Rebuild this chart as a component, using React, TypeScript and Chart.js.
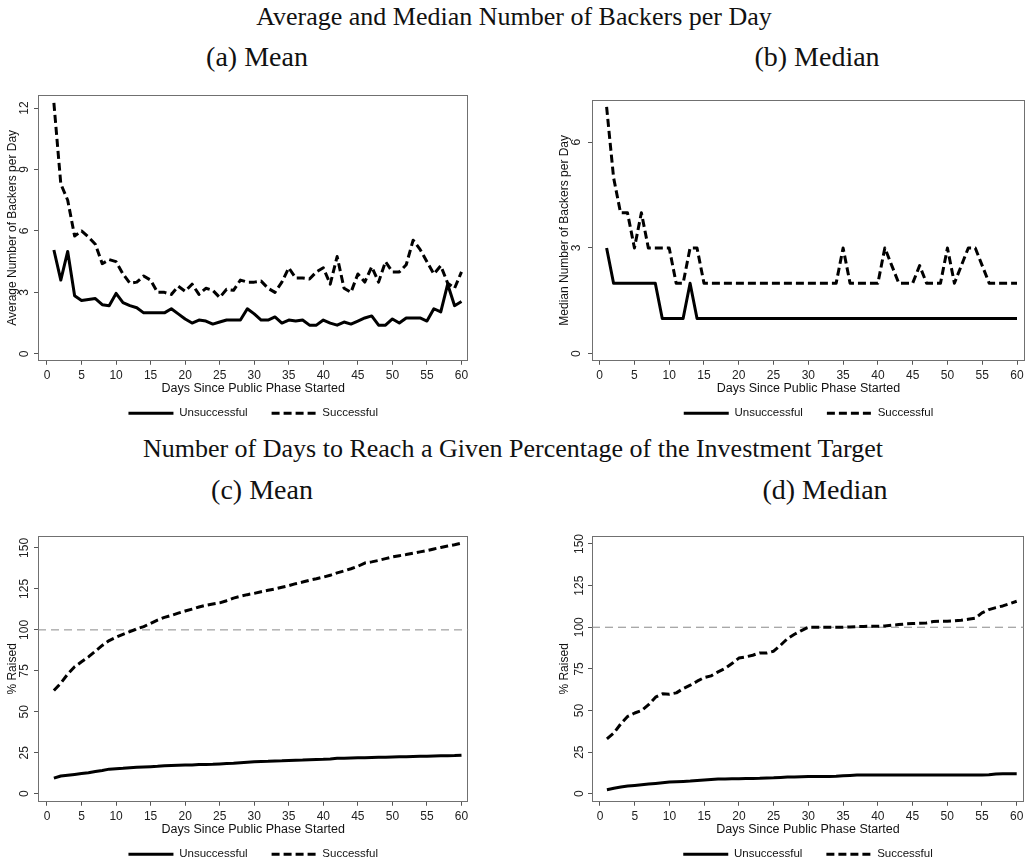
import React, { useEffect, useRef } from "react";
import { Chart, registerables } from "chart.js";

Chart.register(...registerables);

const SANS = '"Liberation Sans", Arial, Helvetica, sans-serif';
const SERIF = '"Liberation Serif", "Times New Roman", serif';

// ---------- data ----------
const days = [
  1, 2, 3, 4, 5, 6, 7, 8, 9, 10, 11, 12, 13, 14, 15, 16, 17, 18, 19, 20,
  21, 22, 23, 24, 25, 26, 27, 28, 29, 30, 31, 32, 33, 34, 35, 36, 37, 38, 39, 40,
  41, 42, 43, 44, 45, 46, 47, 48, 49, 50, 51, 52, 53, 54, 55, 56, 57, 58, 59, 60,
];
const xTickValues = [0, 5, 10, 15, 20, 25, 30, 35, 40, 45, 50, 55, 60];
const avgYTicks = [0, 3, 6, 9, 12];
const medYTicks = [0, 3, 6];
const pctYTicks = [0, 25, 50, 75, 100, 125, 150];
const seriesNames = ["Unsuccessful", "Successful"];
const targetPct = 100;

// (a) average backers per day
const avgUnsuccessful = [
  5.07, 3.6, 5.0, 2.83, 2.6, 2.65, 2.7, 2.4, 2.35, 2.95, 2.5, 2.35, 2.25, 2.0, 2.0, 2.0, 2.0, 2.2, 1.95, 1.7,
  1.5, 1.65, 1.6, 1.45, 1.55, 1.65, 1.65, 1.65, 2.2, 1.95, 1.65, 1.65, 1.8, 1.5, 1.65, 1.6, 1.65, 1.4, 1.4, 1.65,
  1.5, 1.4, 1.55, 1.45, 1.6, 1.75, 1.85, 1.4, 1.4, 1.7, 1.5, 1.75, 1.75, 1.75, 1.6, 2.2, 2.05, 3.4, 2.35, 2.55,
];
const avgSuccessful = [
  12.25, 8.3, 7.5, 5.75, 6.0, 5.7, 5.35, 4.4, 4.6, 4.5, 3.9, 3.45, 3.5, 3.8, 3.6, 3.0, 3.0, 2.9, 3.3, 3.05,
  3.4, 2.9, 3.2, 3.1, 2.75, 3.15, 3.1, 3.6, 3.5, 3.5, 3.55, 3.2, 3.0, 3.5, 4.2, 3.7, 3.7, 3.65, 4.0, 4.2,
  3.4, 4.75, 3.2, 3.0, 3.9, 3.5, 4.25, 3.5, 4.5, 4.0, 4.0, 4.35, 5.55, 5.1, 4.5, 3.9, 4.3, 3.45, 3.2, 4.0,
];

// (b) median backers per day
const medUnsuccessful = [
  3, 2, 2, 2, 2, 2, 2, 2, 1, 1, 1, 1, 2, 1, 1, 1, 1, 1, 1, 1,
  1, 1, 1, 1, 1, 1, 1, 1, 1, 1, 1, 1, 1, 1, 1, 1, 1, 1, 1, 1,
  1, 1, 1, 1, 1, 1, 1, 1, 1, 1, 1, 1, 1, 1, 1, 1, 1, 1, 1, 1,
];
const medSuccessful = [
  7, 5, 4, 4, 3, 4, 3, 3, 3, 3, 2, 2, 3, 3, 2, 2, 2, 2, 2, 2,
  2, 2, 2, 2, 2, 2, 2, 2, 2, 2, 2, 2, 2, 2, 3, 2, 2, 2, 2, 2,
  3, 2.5, 2, 2, 2, 2.5, 2, 2, 2, 3, 2, 2.5, 3, 3, 2.5, 2, 2, 2, 2, 2,
];

// (c) mean % raised
const pctMeanUnsuccessful = [
  9.5, 10.8, 11.3, 11.8, 12.3, 12.8, 13.5, 14.2, 15.0, 15.3, 15.5, 15.8, 16.1, 16.3, 16.5, 16.7, 17.0, 17.2, 17.4, 17.5,
  17.6, 17.8, 17.9, 18.0, 18.2, 18.4, 18.6, 18.9, 19.2, 19.5, 19.7, 19.8, 20.0, 20.1, 20.3, 20.5, 20.6, 20.8, 20.9, 21.0,
  21.2, 21.6, 21.7, 21.8, 21.9, 22.0, 22.1, 22.2, 22.3, 22.4, 22.5, 22.6, 22.7, 22.8, 22.9, 23.0, 23.1, 23.2, 23.3, 23.5,
];
const pctMeanSuccessful = [
  63, 67.5, 73, 77.5, 80.5, 83.5, 87, 90.5, 93.5, 95.5, 97.3, 99, 100.6, 102, 104, 106, 107.6, 108.8, 110.2, 111.5,
  112.7, 114, 115, 115.8, 116.5, 117.8, 119.4, 120.5, 121.5, 122.3, 123.3, 124.2, 125, 126, 127, 128.2, 129.2, 130.3, 131.2, 132.2,
  133.3, 134.8, 136, 137.3, 138.8, 140.8, 141.5, 142.4, 143.5, 144.5, 145.3, 146, 146.8, 147.6, 148.4, 149.4, 150.3, 151.2, 152, 153,
];

// (d) median % raised
const pctMedUnsuccessful = [
  2.4, 3.3, 4.0, 4.6, 5.0, 5.4, 5.8, 6.2, 6.6, 7.0, 7.2, 7.4, 7.6, 7.9, 8.2, 8.5, 8.8, 8.9, 9.0, 9.0,
  9.1, 9.2, 9.3, 9.5, 9.6, 9.8, 10.0, 10.1, 10.2, 10.3, 10.4, 10.4, 10.4, 10.5, 10.8, 11.0, 11.2, 11.2, 11.2, 11.2,
  11.2, 11.2, 11.2, 11.2, 11.2, 11.2, 11.3, 11.3, 11.3, 11.3, 11.3, 11.3, 11.3, 11.3, 11.3, 11.4, 11.9, 12.0, 12.0, 12.0,
];
const pctMedSuccessful = [
  33, 36.5, 42, 46.5, 48.5, 50, 53.5, 58, 60, 59.8, 60.6, 63.2, 65.2, 67.6, 69.8, 70.8, 73.2, 75.2, 78.2, 81.5,
  82.2, 83.2, 84.6, 84.5, 85.6, 89.2, 93.2, 95.8, 98, 100, 100, 100, 100, 100, 100, 100.2, 100.4, 100.5, 100.6, 100.6,
  100.8, 101.2, 101.6, 102, 102.2, 102.4, 102.6, 103.4, 103.6, 103.6, 103.8, 104.2, 104.8, 105.4, 108.6, 110.6, 111.8, 112.8, 114.2, 115.6,
];

// ---------- helpers ----------
const toPoints = (vals: number[]) => vals.map((v, i) => ({ x: days[i], y: v }));

const boxPlugin = {
  id: "plotBox",
  beforeDatasetsDraw(chart: any) {
    const { ctx, chartArea: a } = chart;
    ctx.save();
    ctx.strokeStyle = "#707070";
    ctx.lineWidth = 1;
    const l = Math.round(a.left) + 0.5;
    const t = Math.round(a.top) + 0.5;
    const r = Math.round(a.right) - 0.5;
    const b = Math.round(a.bottom) - 0.5;
    ctx.strokeRect(l, t, r - l, b - t);
    ctx.restore();
  },
};

type PanelProps = {
  left: number;
  top: number;
  width: number;
  height: number;
  yWidth: number;
  padRight: number;
  xMin: number;
  xMax: number;
  yMin: number;
  yMax: number;
  yTicks: number[];
  yTitle: string;
  yTitlePad: number;
  yTickPad: number;
  unsucc: number[];
  succ: number[];
  refLine?: number;
};

function Panel(p: PanelProps) {
  const ref = useRef<HTMLCanvasElement>(null);
  useEffect(() => {
    if (!ref.current) return;
    const datasets: any[] = [
      {
        label: seriesNames[0],
        data: toPoints(p.unsucc),
        borderColor: "#000",
        backgroundColor: "#000",
        borderWidth: 3,
        borderJoinStyle: "round",
        pointRadius: 0,
        order: 0,
      },
      {
        label: seriesNames[1],
        data: toPoints(p.succ),
        borderColor: "#000",
        backgroundColor: "#000",
        borderWidth: 3,
        borderDash: [8, 4],
        borderJoinStyle: "round",
        pointRadius: 0,
        order: 1,
      },
    ];
    if (p.refLine !== undefined) {
      datasets.push({
        label: "ref",
        data: [
          { x: p.xMin, y: p.refLine },
          { x: p.xMax, y: p.refLine },
        ],
        borderColor: "#8a8a8a",
        borderWidth: 1,
        borderDash: [8, 5],
        pointRadius: 0,
        order: 2,
      });
    }
    const gridOpts = {
      display: true,
      drawOnChartArea: false,
      drawTicks: true,
      tickLength: 4,
      color: "#555",
      lineWidth: 1,
    };
    const baseGenerate = (Chart as any).defaults.plugins.legend.labels.generateLabels;
    const chart = new Chart(ref.current, {
      type: "line",
      data: { datasets },
      plugins: [boxPlugin],
      options: {
        animation: false,
        responsive: false,
        maintainAspectRatio: false,
        layout: { padding: { top: 10, right: p.padRight, left: 0, bottom: 0 } },
        elements: { point: { radius: 0 }, line: { tension: 0 } },
        plugins: {
          legend: {
            display: true,
            position: "bottom",
            fullSize: false,
            labels: {
              usePointStyle: true,
              pointStyle: "line",
              pointStyleWidth: 45,
              padding: 24,
              color: "#111",
              font: { family: SANS, size: 11.5 },
              filter: (item: any) => item.datasetIndex < 2,
              generateLabels: (c: any) =>
                baseGenerate(c).map((it: any) => ({
                  ...it,
                  lineDash: c.data.datasets[it.datasetIndex].borderDash || [],
                  lineWidth: 3,
                  strokeStyle: "#000",
                  fillStyle: "#000",
                  lineCap: "butt",
                })),
            },
          },
          tooltip: { enabled: false },
        },
        scales: {
          x: {
            type: "linear",
            min: p.xMin,
            max: p.xMax,
            afterBuildTicks: (s: any) => {
              s.ticks = xTickValues.map((v) => ({ value: v }));
            },
            afterFit: (s: any) => {
              s.height = 22.75;
            },
            grid: gridOpts,
            border: { display: false },
            ticks: {
              autoSkip: false,
              maxRotation: 0,
              padding: 3.8,
              color: "#222",
              font: { family: SANS, size: 12 },
              callback: (v: any) => String(v),
            },
            title: {
              display: true,
              text: "Days Since Public Phase Started",
              color: "#111",
              font: { family: SANS, size: 12.5 },
              padding: { top: 0, bottom: -12.25 },
            },
          },
          y: {
            type: "linear",
            min: p.yMin,
            max: p.yMax,
            afterBuildTicks: (s: any) => {
              s.ticks = p.yTicks.map((v) => ({ value: v }));
            },
            afterFit: (s: any) => {
              s.width = p.yWidth;
            },
            grid: gridOpts,
            border: { display: false },
            ticks: {
              autoSkip: false,
              minRotation: 90,
              maxRotation: 90,
              crossAlign: "center",
              padding: p.yTickPad,
              color: "#222",
              font: { family: SANS, size: 12 },
              callback: (v: any) => String(v),
            },
            title: {
              display: true,
              text: p.yTitle,
              color: "#111",
              font: { family: SANS, size: 12 },
              padding: { top: p.yTitlePad, bottom: 0 },
            },
          },
        },
      } as any,
    });
    return () => chart.destroy();
  }, []);
  return (
    <div style={{ position: "absolute", left: p.left, top: p.top, width: p.width, height: p.height }}>
      <canvas ref={ref} width={p.width} height={p.height} style={{ display: "block" }} />
    </div>
  );
}

function Title(props: { text: string; cx: number; cy: number; size: number }) {
  return (
    <div
      style={{
        position: "absolute",
        left: props.cx - 500,
        top: props.cy - props.size / 2,
        width: 1000,
        textAlign: "center",
        fontFamily: SERIF,
        fontSize: props.size,
        lineHeight: `${props.size}px`,
        color: "#111",
        whiteSpace: "nowrap",
      }}
    >
      {props.text}
    </div>
  );
}

export default function App() {
  return (
    <div
      style={{
        position: "fixed",
        left: 0,
        top: 0,
        width: 1028,
        height: 864,
        background: "#fff",
        overflow: "hidden",
      }}
    >
      <Title text="Average and Median Number of Backers per Day" cx={514} cy={17} size={26} />
      <Title text="(a) Mean" cx={257} cy={57} size={28} />
      <Title text="(b) Median" cx={817} cy={57} size={28} />
      <Title text="Number of Days to Reach a Given Percentage of the Investment Target" cx={513} cy={449} size={26} />
      <Title text="(c) Mean" cx={262} cy={490} size={28} />
      <Title text="(d) Median" cx={825} cy={490} size={28} />

      <Panel
        left={0} top={85} width={472} height={344} yWidth={38} padRight={2}
        xMin={-1.3} xMax={61.0} yMin={-0.34} yMax={12.64} yTicks={avgYTicks}
        yTitle="Average Number of Backers per Day" yTitlePad={5.5} yTickPad={2.3}
        unsucc={avgUnsuccessful} succ={avgSuccessful}
      />
      <Panel
        left={550} top={85} width={478} height={344} yWidth={42} padRight={3}
        xMin={-1.1} xMax={61.15} yMin={-0.2} yMax={7.2} yTicks={medYTicks}
        yTitle="Median Number of Backers per Day" yTitlePad={7.5} yTickPad={7.7}
        unsucc={medUnsuccessful} succ={medSuccessful}
      />
      <Panel
        left={0} top={526} width={472} height={344} yWidth={38} padRight={2}
        xMin={-1.3} xMax={61.0} yMin={-4.9} yMax={157.3} yTicks={pctYTicks}
        yTitle="% Raised" yTitlePad={5} yTickPad={-1}
        unsucc={pctMeanUnsuccessful} succ={pctMeanSuccessful} refLine={targetPct}
      />
      <Panel
        left={550} top={526} width={478} height={344} yWidth={42} padRight={4}
        xMin={-1.15} xMax={61.05} yMin={-4.8} yMax={154.8} yTicks={pctYTicks}
        yTitle="% Raised" yTitlePad={7} yTickPad={-1.5}
        unsucc={pctMedUnsuccessful} succ={pctMedSuccessful} refLine={targetPct}
      />
    </div>
  );
}
